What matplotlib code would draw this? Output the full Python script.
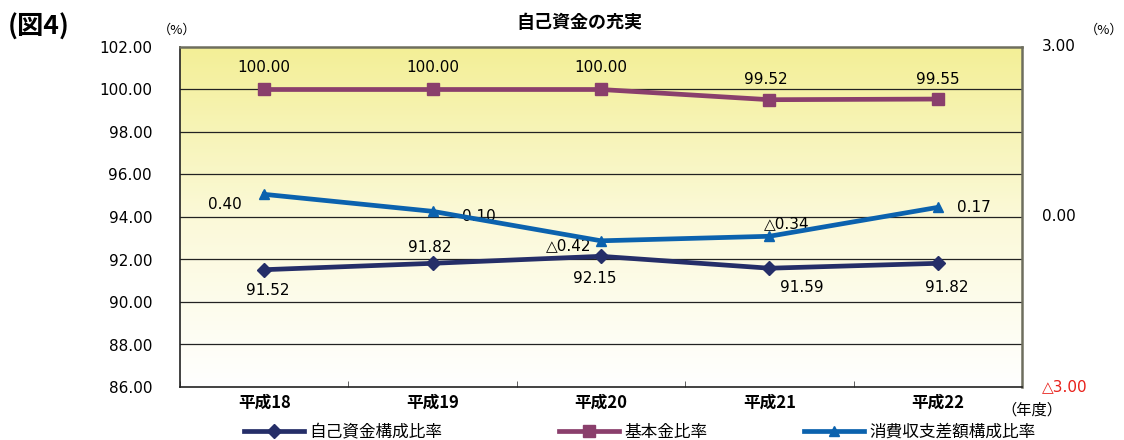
import numpy as np
import matplotlib
matplotlib.use("Agg")
import matplotlib.pyplot as plt
from matplotlib.colors import LinearSegmentedColormap

plt.rcParams['font.family'] = ['DejaVu Sans', 'Noto Sans CJK JP']
JP = ['Noto Sans CJK JP', 'DejaVu Sans']

years = ["平成18", "平成19", "平成20", "平成21", "平成22"]
own_funds_ratio = [91.52, 91.82, 92.15, 91.59, 91.82]
basic_funds_ratio = [100.00, 100.00, 100.00, 99.52, 99.55]
balance_diff_ratio = [0.40, 0.10, -0.42, -0.34, 0.17]

left_ticks = [86, 88, 90, 92, 94, 96, 98, 100, 102]
right_ticks = [-3.0, 0.0, 3.0]

NAVY = "#252E68"
PLUM = "#8A3F6C"
BLUE = "#0B62AE"
W, H = 1124, 440


def fmt_signed(v):
    return f"△{abs(v):.2f}" if v < 0 else f"{v:.2f}"


def px(v):
    # pixel offset -> points at 100 dpi
    return v * 0.72


fig = plt.figure(figsize=(W / 100, H / 100), dpi=100)
ax = fig.add_axes([180 / W, 53 / H, 842 / W, 340 / H])
x = np.arange(len(years))
ax.set_xlim(-0.5, len(years) - 0.5)
ax.set_ylim(86, 102)

# vertical yellow-to-white gradient background
cmap = LinearSegmentedColormap.from_list("bg", ["#F3EF96", "#FBF9D8", "#FFFFFF"])
grad = np.linspace(0, 1, 256).reshape(-1, 1)
ax.imshow(grad, aspect="auto", cmap=cmap, extent=(-0.5, len(years) - 0.5, 86, 102),
          zorder=0, origin="upper")

for yv in left_ticks[1:-1]:
    ax.axhline(yv, color="#222222", lw=0.9, zorder=1)

ax.set_yticks(left_ticks)
ax.set_yticklabels([f"{v:.2f}" for v in left_ticks], fontsize=11)
ax.set_xticks(np.arange(len(years) + 1) - 0.5, minor=True)
ax.set_xticks(x)
ax.set_xticklabels(years, fontsize=12, fontweight="bold", family=JP)
ax.tick_params(axis="x", which="major", length=0, pad=5)
ax.tick_params(axis="x", which="minor", length=4, direction="in", color="#444444")
ax.tick_params(axis="y", length=0, pad=px(28))

for side in ["left", "bottom"]:
    ax.spines[side].set_color("#222222")
    ax.spines[side].set_linewidth(1.2)
ax.spines["top"].set_color("#6E6E5E")
ax.spines["top"].set_linewidth(1.8)
ax.spines["right"].set_color("#6E6E5E")
ax.spines["right"].set_linewidth(1.8)

l1, = ax.plot(x, own_funds_ratio, color=NAVY, lw=3.4, marker="D", ms=7, zorder=4,
              label="自己資金構成比率")
l2, = ax.plot(x, basic_funds_ratio, color=PLUM, lw=3.4, marker="s", ms=8, zorder=4,
              label="基本金比率")

ax2 = ax.twinx()
ax2.set_ylim(-3, 3)
ax2.set_yticks([])
for s in ax2.spines.values():
    s.set_visible(False)
l3, = ax2.plot(x, balance_diff_ratio, color=BLUE, lw=3.4, marker="^", ms=7, zorder=4,
               label="消費収支差額構成比率")

# right-axis labels
for v in right_ticks:
    ax2.annotate(fmt_signed(v), xy=(1, v), xycoords=("axes fraction", "data"),
                 xytext=(px(20), 0), textcoords="offset points", va="center", ha="left",
                 fontsize=11, color="#E8201A" if v < 0 else "black")

# value labels (pixel offsets from each point)
plum_off = [(0, 22), (0, 22), (0, 22), (-4, 20), (0, 20)]
for xi, v, (dx, dy) in zip(x, basic_funds_ratio, plum_off):
    ax.annotate(f"{v:.2f}", (xi, v), xytext=(px(dx), px(dy)), textcoords="offset points",
                ha="center", va="center", fontsize=11)

navy_off = [(4, -21), (-3, 16), (-6, -22), (32, -19), (9, -24)]
for xi, v, (dx, dy) in zip(x, own_funds_ratio, navy_off):
    ax.annotate(f"{v:.2f}", (xi, v), xytext=(px(dx), px(dy)), textcoords="offset points",
                ha="center", va="center", fontsize=11)

blue_off = [(-39, -10), (46, -5), (-32, -5), (17, 13), (36, 0)]
for xi, v, (dx, dy) in zip(x, balance_diff_ratio, blue_off):
    ax2.annotate(fmt_signed(v), (xi, v), xytext=(px(dx), px(dy)), textcoords="offset points",
                 ha="center", va="center", fontsize=11)

fig.text(579 / W, 1 - 22 / H, "自己資金の充実", ha="center", va="center",
         fontsize=13, fontweight="bold", family=JP)
fig.text(8 / W, 1 - 27 / H, "(図4)", ha="left", va="center",
         fontsize=19, fontweight="bold", family=JP)
fig.text(177 / W, 1 - 30 / H, "（%）", ha="center", va="center", fontsize=9.5, family=JP)
fig.text(1104 / W, 1 - 30 / H, "（%）", ha="center", va="center", fontsize=9.5, family=JP)
fig.text(1032 / W, 1 - 410 / H, "（年度）", ha="center", va="center", fontsize=11, family=JP)

# legend entries placed individually along the bottom
for handle, x0 in [(l1, 244), (l2, 559), (l3, 804)]:
    fig.legend(handles=[handle], loc="center left", bbox_to_anchor=(x0 / W, 1 - 432 / H),
               frameon=False, prop={"family": JP, "size": 12}, handlelength=3.6,
               handletextpad=0.3, borderpad=0, borderaxespad=0)

fig.savefig("out.png", dpi=100)
